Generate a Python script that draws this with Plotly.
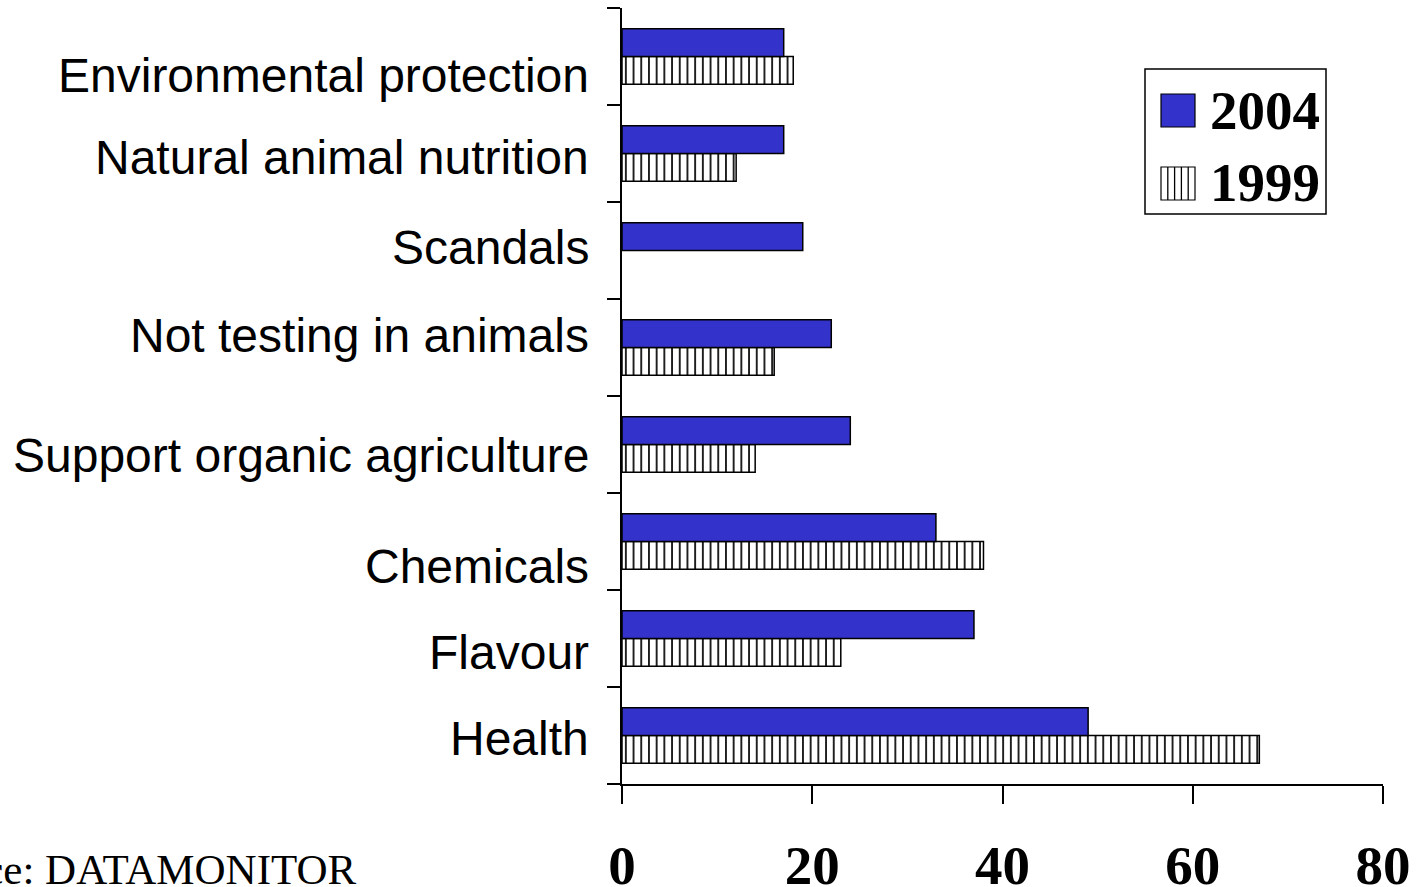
import plotly.graph_objects as go

# Reasons for buying organic / natural products (% of respondents)
categories = [
    "Health",
    "Flavour",
    "Chemicals",
    "Support organic agriculture",
    "Not testing in animals",
    "Scandals",
    "Natural animal nutrition",
    "Environmental protection",
]
values_2004 = [49, 37, 33, 24, 22, 19, 17, 17]
values_1999 = [67, 23, 38, 14, 16, None, 12, 18]
x_ticks = [0, 20, 40, 60, 80]
source_text = "Source: DATAMONITOR"

# Vertical nudge (px, downward) of each category label relative to its row centre
label_nudge = [2.5, 13.5, 24.5, 10.5, -12, -3, 3.5, 18.5]

BLUE = "#3333CC"
SANS = "Liberation Sans, Arial, sans-serif"
SERIF = "Liberation Serif, Times New Roman, serif"

W, H = 1420, 887
M_L, M_R, M_T, M_B = 622, 37, 8, 103
PW, PH = W - M_L - M_R, H - M_T - M_B


def px_x(p):
    return (p - M_L) / PW


def px_y(p):
    return 1 - (p - M_T) / PH


fig = go.Figure()

fig.add_trace(go.Bar(
    name="1999", y=categories, x=values_1999, orientation="h",
    marker=dict(
        color="white",
        line=dict(color="black", width=1.5),
        pattern=dict(shape="|", size=7.7, solidity=0.22,
                     fgcolor="black", bgcolor="white", fillmode="replace"),
    ),
    showlegend=False,
))
fig.add_trace(go.Bar(
    name="2004", y=categories, x=values_2004, orientation="h",
    marker=dict(color=BLUE, line=dict(color="black", width=1.5)),
    showlegend=False,
))

# Category labels drawn beside the axis
annotations = []
for cat, nudge in zip(categories, label_nudge):
    annotations.append(dict(
        text=cat, xref="paper", x=0, xanchor="right", xshift=-31,
        yref="y", y=cat, yanchor="middle", yshift=-nudge,
        showarrow=False, font=dict(family=SANS, size=48, color="black"),
    ))

# Boxed legend
shapes = [
    dict(type="rect", xref="paper", yref="paper",
         x0=px_x(1145), x1=px_x(1326), y0=px_y(69), y1=px_y(214),
         line=dict(color="black", width=1.5), fillcolor="white", layer="above"),
    dict(type="rect", xref="paper", yref="paper",
         x0=px_x(1161), x1=px_x(1195), y0=px_y(94), y1=px_y(127),
         line=dict(color="black", width=1.2), fillcolor=BLUE, layer="above"),
    dict(type="rect", xref="paper", yref="paper",
         x0=px_x(1161), x1=px_x(1195), y0=px_y(167), y1=px_y(200),
         line=dict(color="black", width=1.2), fillcolor="white", layer="above"),
]
for k in range(1, 5):
    xl = 1161 + k * 34 / 5
    shapes.append(dict(type="line", xref="paper", yref="paper",
                       x0=px_x(xl), x1=px_x(xl), y0=px_y(167), y1=px_y(200),
                       line=dict(color="black", width=1.3), layer="above"))

for label, yc in (("2004", 111), ("1999", 183)):
    annotations.append(dict(
        text="<b>%s</b>" % label, xref="paper", x=px_x(1208), xanchor="left",
        yref="paper", y=px_y(yc), yanchor="middle", showarrow=False,
        font=dict(family=SERIF, size=55, color="black"),
    ))

annotations.append(dict(
    text=source_text, xref="paper", x=px_x(359), xanchor="right",
    yref="paper", y=px_y(869), yanchor="middle", showarrow=False,
    font=dict(family=SERIF, size=43, color="black"),
))

fig.update_layout(
    width=W, height=H,
    margin=dict(l=M_L, r=M_R, t=M_T, b=M_B, pad=0, autoexpand=False),
    paper_bgcolor="white", plot_bgcolor="white",
    barmode="group", bargap=0.43, bargroupgap=0,
    annotations=annotations, shapes=shapes,
    showlegend=False,
    xaxis=dict(
        range=[0, 80], tickvals=x_ticks, ticktext=[str(v) for v in x_ticks],
        ticks="outside", ticklen=18, tickwidth=1.5, tickcolor="black",
        showline=True, linecolor="black", linewidth=1.5,
        showgrid=False, zeroline=False, ticklabelstandoff=14, automargin=False,
        tickfont=dict(family=SERIF, size=55, color="black", weight="bold"),
    ),
    yaxis=dict(
        categoryorder="array", categoryarray=categories,
        ticks="outside", ticklen=13, tickwidth=1.5, tickcolor="black",
        tickson="boundaries", showticklabels=False, automargin=False,
        showline=True, linecolor="black", linewidth=1.5,
        showgrid=False, zeroline=False,
    ),
)

fig.write_html("out.html")
